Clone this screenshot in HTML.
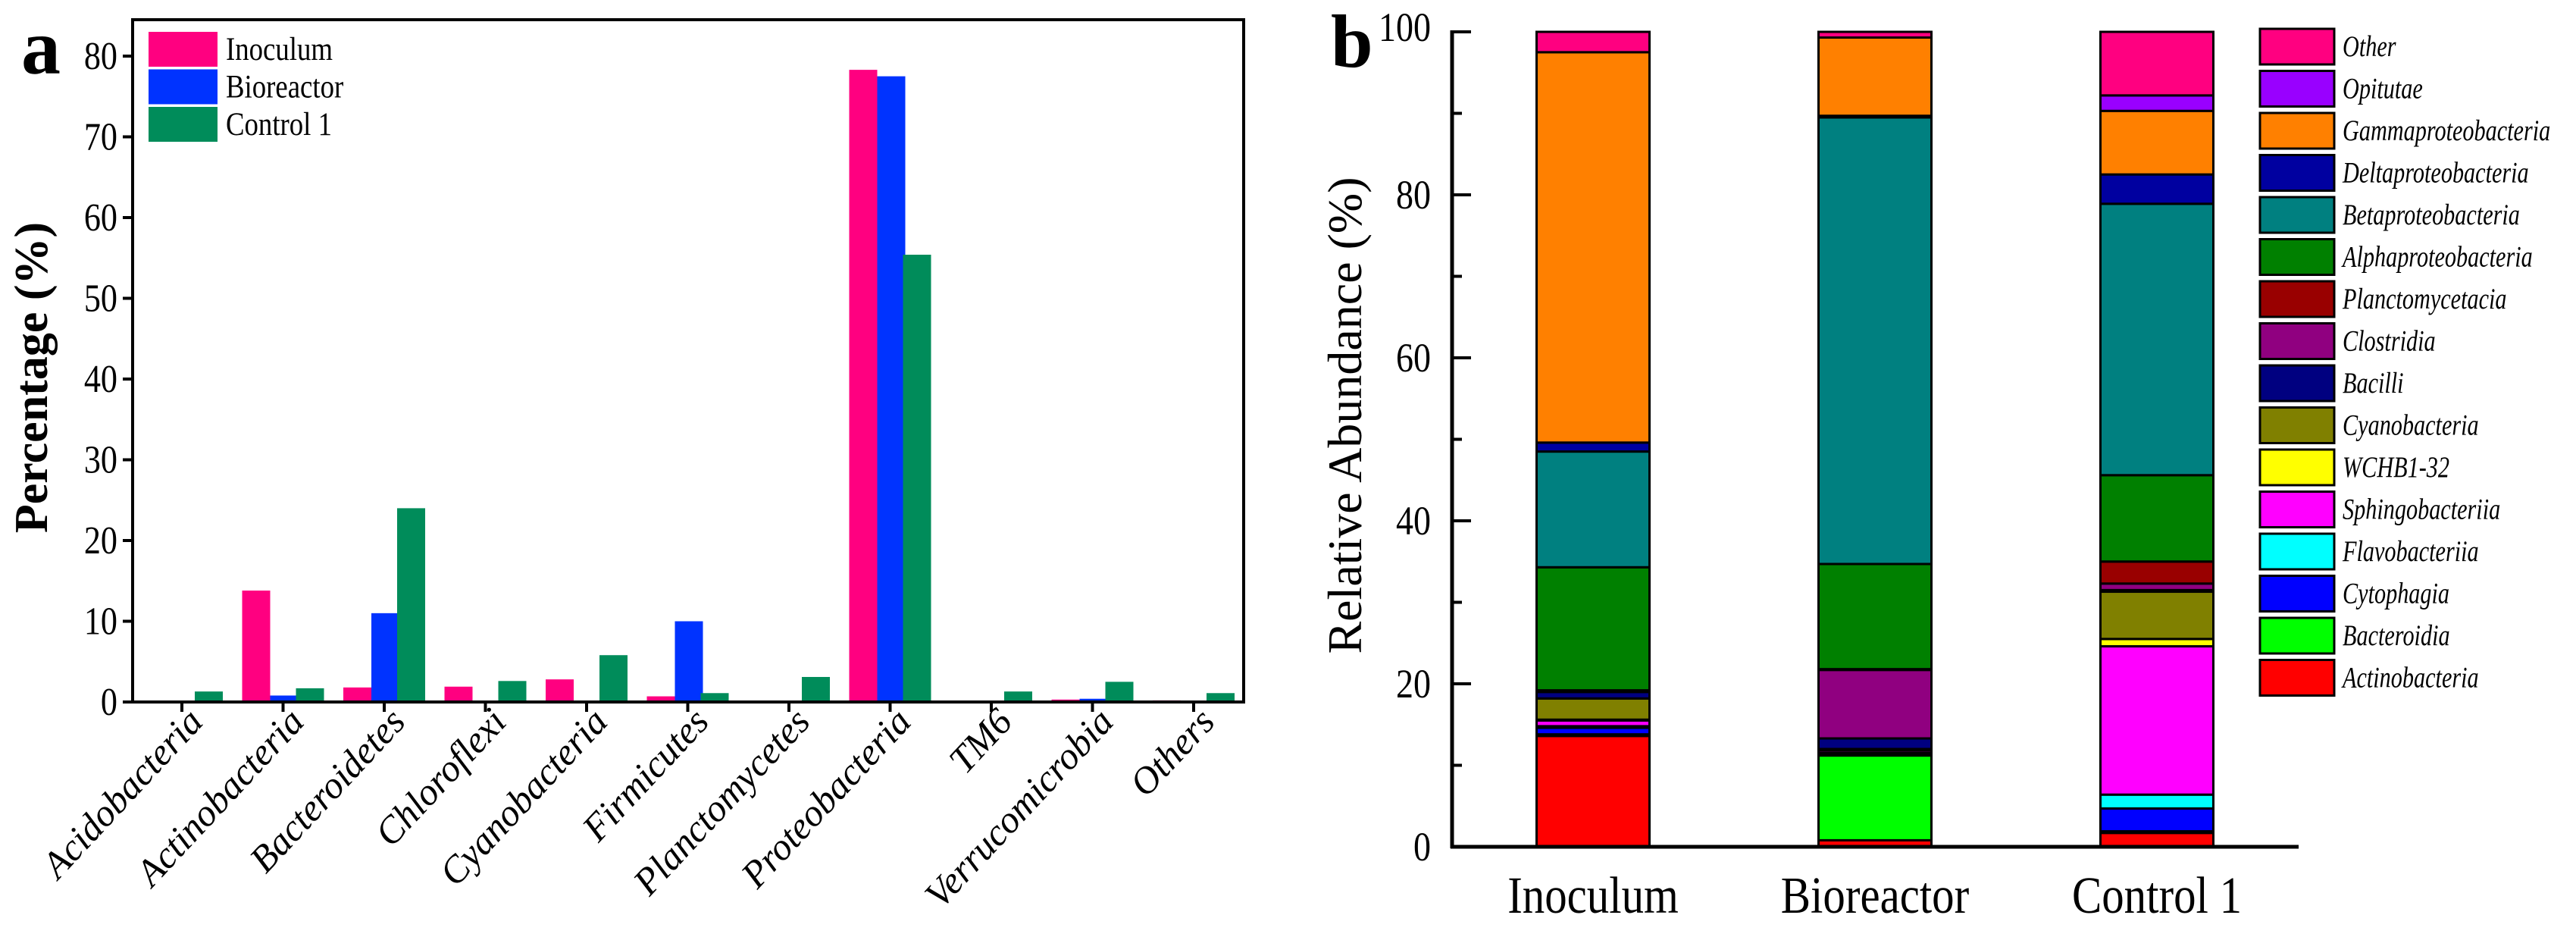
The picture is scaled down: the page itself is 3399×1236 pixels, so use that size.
<!DOCTYPE html>
<html><head><meta charset="utf-8"><style>
html,body{margin:0;padding:0;background:#fff;}
svg, svg text{font-family:"Liberation Serif","DejaVu Serif",serif;}
</style></head><body>
<svg id="chart" width="3399" height="1231" viewBox="0 0 3399 1231" xmlns="http://www.w3.org/2000/svg" font-family="Liberation Serif, DejaVu Serif, serif">
<g id="left"></g>
<g id="right"></g>
</svg>
<script>
// ---- Panel a data ----
const phyla = ["Acidobacteria","Actinobacteria","Bacteroidetes","Chloroflexi","Cyanobacteria","Firmicutes","Planctomycetes","Proteobacteria","TM6","Verrucomicrobia","Others"];
const inoculumVals = [0,13.8,1.8,1.9,2.8,0.7,0,78.3,0,0.3,0.2];
const bioreactorVals = [0,0.8,11,0.1,0,10,0,77.5,0,0.4,0.1];
const control1Vals = [1.3,1.7,24,2.6,5.8,1.1,3.1,55.4,1.3,2.5,1.1];
const leftTicks = [0,10,20,30,40,50,60,70,80];
const seriesNames = ["Inoculum","Bioreactor","Control 1"];
const seriesColors = ["#ff0080","#0033ff","#008c5a"];

// ---- Panel b data ----
const samples = ["Inoculum","Bioreactor","Control 1"];
const classes = ["Actinobacteria","Bacteroidia","Cytophagia","Flavobacteriia","Sphingobacteriia","WCHB1-32","Cyanobacteria","Bacilli","Clostridia","Planctomycetacia","Alphaproteobacteria","Betaproteobacteria","Deltaproteobacteria","Gammaproteobacteria","Opitutae","Other"];
const classColors = ["#ff0000","#00ff00","#0000ff","#00ffff","#ff00ff","#ffff00","#808000","#000080","#900080","#990000","#008000","#008080","#0000a0","#ff8000","#9900ff","#ff0080"];
const inocStack = [13.6,0.2,0.8,0.2,0.7,0.1,2.6,0.8,0.1,0.1,15.1,14.2,1.1,47.9,0,2.5];
const bioStack = [0.8,10.4,0.2,0.1,0.3,0,0.2,1.3,8.4,0.1,12.9,54.8,0.2,9.6,0,0.7];
const ctrlStack = [1.7,0.2,2.8,1.7,18.2,0.9,5.8,0.2,0.8,2.7,10.6,33.3,3.6,7.8,1.9,7.8];
const rightTicks = [0,20,40,60,80,100];

const NS="http://www.w3.org/2000/svg";
const FF='"Liberation Serif","DejaVu Serif",serif';
function mk(parent,tag,attrs,text){const e=document.createElementNS(NS,tag);for(const k in attrs)e.setAttribute(k,attrs[k]);if(tag==='text'){e.style.fontFamily=FF;}if(text!==undefined)e.textContent=text;parent.appendChild(e);return e;}

// ===== Panel a =====
const L=document.getElementById('left');
const ax0=175, ax1=1641, ay0=926, ayTop=26;
const yA=v=>ay0-v*10.65;
const xA=i=>240+i*133.5;
let t=mk(L,'text',{x:28,y:97,'font-size':104,'font-weight':'bold'},'a');


const bw=37, offs=[-54,-17,17];
const allVals=[inoculumVals,bioreactorVals,control1Vals];
allVals.forEach((vals,s)=>{vals.forEach((v,i)=>{
  const r=mk(L,'rect',{x:xA(i)+offs[s],y:yA(v),width:bw,height:ay0-yA(v),fill:seriesColors[s]});
  
  
});});
let fr=mk(L,'rect',{x:ax0,y:ayTop,width:ax1-ax0,height:ay0-ayTop,fill:'none',stroke:'#000','stroke-width':4});


leftTicks.forEach(v=>{
  const l=mk(L,'line',{x1:ax0-13,x2:ax0,y1:yA(v),y2:yA(v),stroke:'#000','stroke-width':4});
  
  
  const tx=mk(L,'text',{x:0,y:0,'font-size':48,'text-anchor':'end',transform:`translate(${ax0-20},${yA(v)+17}) scale(0.92,1.08)`},String(v));
  
  
});
phyla.forEach((p,i)=>{
  const l=mk(L,'line',{x1:xA(i),x2:xA(i),y1:ay0,y2:ay0+13,stroke:'#000','stroke-width':4});
  
  
  const tx=mk(L,'text',{x:0,y:0,'font-size':50,'font-style':'italic','text-anchor':'end',transform:`translate(${xA(i)+30},${ay0+28}) rotate(-47)`},p);
  
  
});
t=mk(L,'text',{x:0,y:0,'font-size':62,'font-weight':'bold','text-anchor':'middle',transform:'translate(62,498) rotate(-90)'},'Percentage (%)');


seriesNames.forEach((n,s)=>{
  const g=mk(L,'g',{});
  
  
  mk(g,'rect',{x:196,y:42+s*49.5,width:91,height:46,fill:seriesColors[s]});
  mk(g,'text',{x:0,y:0,'font-size':40,transform:`translate(298,${79+s*49.5}) scale(0.92,1.08)`},n);
});

// ===== Panel b =====
const R=document.getElementById('right');
const bx0=1916, bx1=3033, by0=1117;
const yB=v=>by0-v*10.75;
const xB=i=>2102+i*372;
t=mk(R,'text',{x:1756,y:88,'font-size':100,'font-weight':'bold'},'b');


const stacks=[inocStack,bioStack,ctrlStack];
const bbw=149;
stacks.forEach((st,si)=>{
  let cum=0;
  st.forEach((v,ci)=>{
    if(v<=0){return;}
    const y1=yB(cum+v), y2=yB(cum);
    const r=mk(R,'rect',{x:xB(si)-bbw/2,y:y1,width:bbw,height:y2-y1,fill:classColors[ci],stroke:'#000','stroke-width':3});
    
    
    cum+=v;
  });
  const tx=mk(R,'text',{x:0,y:0,'font-size':64,'text-anchor':'middle',transform:`translate(${xB(si)},1204) scale(0.92,1.08)`},samples[si]);
  
  
});
let ln=mk(R,'line',{x1:bx0,x2:bx0,y1:40,y2:by0+2,stroke:'#000','stroke-width':5});


ln=mk(R,'line',{x1:bx0-2,x2:bx1,y1:by0,y2:by0,stroke:'#000','stroke-width':5});


for(let v=0;v<=100;v+=10){
  const major=rightTicks.includes(v);
  const l=mk(R,'line',{x1:bx0,x2:bx0+(major?25:13),y1:yB(v),y2:yB(v),stroke:'#000','stroke-width':4});
  
  
}
rightTicks.forEach(v=>{
  const tx=mk(R,'text',{x:0,y:0,'font-size':50,'text-anchor':'end',transform:`translate(1888,${yB(v)+(v===100?12:18)}) scale(0.92,1.08)`},String(v));
  
  
});
t=mk(R,'text',{x:0,y:0,'font-size':64,'text-anchor':'middle',transform:'translate(1796,548) rotate(-90)'},'Relative Abundance (%)');


for(let k=0;k<classes.length;k++){
  const ci=classes.length-1-k;
  const g=mk(R,'g',{});
  
  
  const y=38+k*55.5;
  mk(g,'rect',{x:2982,y:y,width:98,height:47,fill:classColors[ci],stroke:'#000','stroke-width':3});
  mk(g,'text',{x:0,y:0,'font-size':36,'font-style':'italic',transform:`translate(3091,${y+36}) scale(0.84,1.08)`},classes[ci]);
}
</script>
</body></html>
